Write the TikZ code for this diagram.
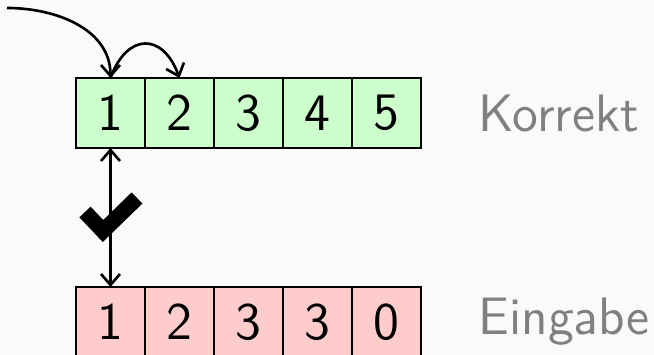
\documentclass[tikz,border=0pt]{standalone}
\usepackage{fontspec}
\usepackage{tikz}
\usetikzlibrary{arrows.meta,positioning}
\tikzset{
  cell/.style={draw, line width=0.8pt, fill=#1, minimum width=6.9mm, minimum height=7mm,
    inner sep=0pt, outer sep=0pt, font=\sffamily\fontsize{15}{17}\selectfont},
  cell/.default=white,
  lbl/.style={font=\sffamily\fontsize{15}{17}\selectfont, text=labelgray, inner sep=0pt, anchor=west},
  arr/.style={-{Straight Barb[length=1.1mm, width=1.9mm]}, line width=0.75pt},
  darr/.style={{Straight Barb[length=1.1mm, width=1.9mm]}-{Straight Barb[length=1.1mm, width=1.9mm]}, line width=0.75pt},
}
\definecolor{okfill}{HTML}{CCFFCC}
\definecolor{infill}{HTML}{FFCCCC}
\definecolor{labelgray}{HTML}{808080}
\definecolor{bg}{HTML}{FAFAFA}

\begin{document}
\begin{tikzpicture}[x=0.1mm, y=0.1mm]
  \fill[bg] (0,0) rectangle (654,355);
  \useasboundingbox (0,0) rectangle (654,355);

  % correct sequence
  \node[cell=okfill] (t1) at (110.5,242) {1};
  \node[cell=okfill, right=0mm of t1] (t2) {2};
  \node[cell=okfill, right=0mm of t2] (t3) {3};
  \node[cell=okfill, right=0mm of t3] (t4) {4};
  \node[cell=okfill, right=0mm of t4] (t5) {5};
  \node[lbl, right=5.7mm of t5] (lk) {Korrekt};

  % input sequence
  \node[cell=infill] (b1) at (110.5,33) {1};
  \node[cell=infill, right=0mm of b1] (b2) {2};
  \node[cell=infill, right=0mm of b2] (b3) {3};
  \node[cell=infill, right=0mm of b3] (b4) {3};
  \node[cell=infill, right=0mm of b4] (b5) {0};
  \node[lbl, right=5.7mm of b5] (le) {Eingabe};

  \coordinate (in) at (7,347);
  \draw[arr] (in) to[out=0, in=90] (t1.north);
  \draw[arr] (t1.north) to[out=70, in=110, looseness=1.8] (t2.north);
  \draw[darr] (t1.south) -- (b1.north);

  % check mark
  \draw[line width=1.55mm, line join=miter] (85,143) -- (103,124) -- (137,157);
\end{tikzpicture}
\end{document}
